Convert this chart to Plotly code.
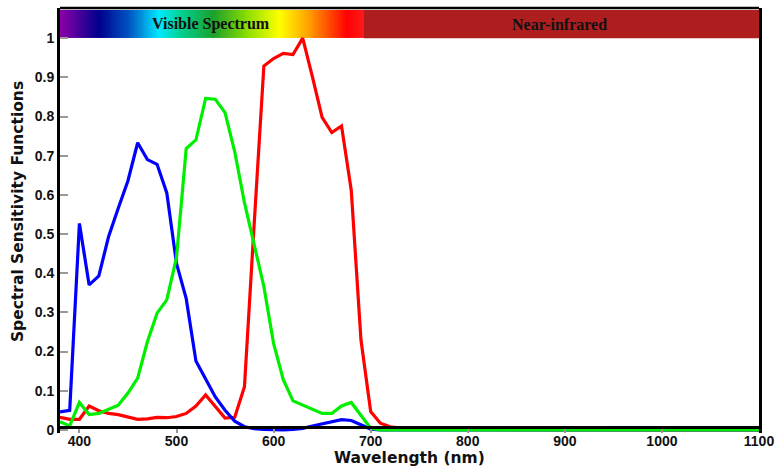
import numpy as np
import plotly.graph_objects as go

# Wavelength samples (nm)
wavelength = [380, 390, 400, 410, 420, 430, 440, 450, 460, 470, 480, 490, 500,
              510, 520, 530, 540, 550, 560, 570, 580, 590, 600, 610, 620, 630,
              640, 650, 660, 670, 680, 690, 700, 710, 720, 730, 740, 800, 900,
              1000, 1100]

# Spectral sensitivity of the three channels
red = [0.032, 0.027, 0.027, 0.061, 0.049, 0.042, 0.039, 0.032, 0.027, 0.028,
       0.032, 0.031, 0.034, 0.042, 0.061, 0.089, 0.058, 0.030, 0.032, 0.110,
       0.525, 0.929, 0.948, 0.961, 0.958, 1.000, 0.901, 0.798, 0.759, 0.776,
       0.612, 0.230, 0.047, 0.017, 0.008, 0.004, 0.002, 0.001, 0.0, 0.0, 0.0]
green = [0.021, 0.010, 0.070, 0.039, 0.042, 0.052, 0.063, 0.094, 0.132, 0.225,
         0.298, 0.332, 0.440, 0.718, 0.740, 0.846, 0.844, 0.810, 0.710, 0.580,
         0.476, 0.366, 0.221, 0.128, 0.074, 0.064, 0.053, 0.042, 0.042, 0.061,
         0.070, 0.038, 0.004, 0.0, 0.0, 0.0, 0.0, 0.0, 0.0, 0.0, 0.0]
blue = [0.046, 0.050, 0.527, 0.370, 0.393, 0.493, 0.566, 0.636, 0.733, 0.690,
        0.678, 0.605, 0.425, 0.335, 0.176, 0.128, 0.084, 0.050, 0.022, 0.008,
        0.003, 0.001, 0.0, 0.0, 0.001, 0.004, 0.010, 0.016, 0.020, 0.026,
        0.024, 0.012, 0.002, 0.0, 0.0, 0.0, 0.0, 0.0, 0.0, 0.0, 0.0]

# Spectrum band definition
visible_range = [380, 693]
nir_range = [693, 1100]
band_range = [1.0, 1.072]
spectrum_stops = [
    (380, "#8c00a8"), (420, "#00008c"), (450, "#0050c0"), (482, "#00e8ff"),
    (502, "#00d49a"), (538, "#1aa02a"), (574, "#90e000"), (606, "#ffff00"),
    (636, "#ffa000"), (660, "#ff4000"), (675, "#ff0000"), (693, "#ff1a1a"),
]

x_ticks = [400, 500, 600, 700, 800, 900, 1000, 1100]

fig = go.Figure()

for name, vals, col in [("Red", red, "#ff0000"), ("Blue", blue, "#0000ff"),
                        ("Green", green, "#00ee00")]:
    fig.add_trace(go.Scatter(x=wavelength, y=vals, mode="lines", name=name,
                             line=dict(color=col, width=3.2)))

# Visible spectrum gradient drawn as a one-row heatmap
edges = np.arange(visible_range[0], visible_range[1] + 1, 1.0)
centers = (edges[:-1] + edges[1:]) / 2
lo, hi = visible_range
cscale = [[(w - lo) / (hi - lo), c] for w, c in spectrum_stops]
fig.add_trace(go.Heatmap(x=edges, y=band_range, z=[centers], zmin=lo, zmax=hi,
                         colorscale=cscale, showscale=False, hoverinfo="skip"))

# Near-infrared band
fig.add_shape(type="rect", xref="x", yref="y", x0=nir_range[0], x1=nir_range[1],
              y0=band_range[0], y1=band_range[1], fillcolor="#ae1e1f",
              line=dict(width=0), layer="above")

band_font = dict(family="Liberation Serif", size=16, color="#111111", weight="bold")
fig.add_annotation(x=536, y=sum(band_range) / 2, xref="x", yref="y",
                   text="Visible Spectrum", showarrow=False, font=band_font)
fig.add_annotation(x=894, y=sum(band_range) / 2, xref="x", yref="y",
                   text="Near-infrared", showarrow=False, font=band_font)

# Frame: bottom and top lines
fig.add_shape(type="line", xref="paper", yref="y", x0=0, x1=1, y0=0.006, y1=0.006,
              line=dict(color="black", width=3), layer="above")
fig.add_shape(type="line", xref="paper", yref="paper", x0=0, x1=1, y0=1, y1=1,
              line=dict(color="black", width=2.5), layer="above")

tick_font = dict(family="Liberation Sans", size=14, color="#111111", weight="bold")

fig.update_xaxes(range=[380, 1100], tickvals=x_ticks, ticks="inside", ticklen=5,
                 tickcolor="#999999", tickwidth=1.5, tickfont=tick_font,
                 ticklabelstandoff=-2,
                 showgrid=False, zeroline=False, showline=False)
fig.update_yaxes(range=[-0.008, 1.077], tick0=0, dtick=0.1, ticks="inside",
                 ticklen=8, tickcolor="#999999", tickwidth=1.5, tickfont=tick_font,
                 showgrid=False, zeroline=False, showline=True, linecolor="black",
                 linewidth=3, mirror=True)

fig.add_annotation(xref="paper", yref="paper", x=0.5, y=-0.058, yanchor="middle",
                   xanchor="center", text="Wavelength (nm)", showarrow=False,
                   font=dict(family="DejaVu Sans", size=15.5, color="#111111",
                             weight="bold"))
fig.add_annotation(xref="paper", yref="paper", x=-0.06, y=0.52, textangle=-90,
                   xanchor="center", yanchor="middle",
                   text="Spectral Sensitivity Functions", showarrow=False,
                   font=dict(family="DejaVu Sans", size=15.5, color="#111111",
                             weight="bold"))

fig.update_layout(width=782, height=468, margin=dict(l=60, r=19, t=8, b=35),
                  plot_bgcolor="white", paper_bgcolor="white", showlegend=False)

fig.write_html("out.html")
